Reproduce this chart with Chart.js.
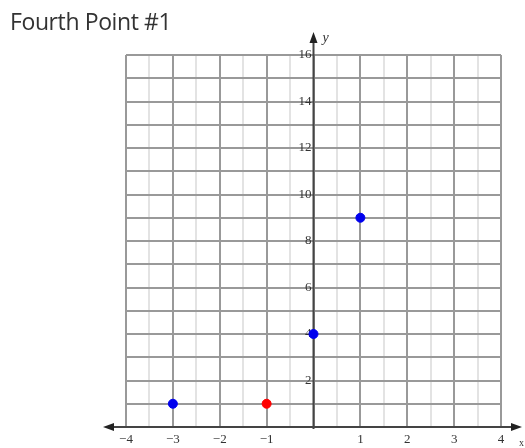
<!DOCTYPE html>
<html lang="en">
<head>
  <meta charset="UTF-8">
  <title>Fourth Point #1</title>
  <script src="https://cdn.jsdelivr.net/npm/chart.js"></script>
  <style>
    body {
      margin: 0;
      background: #fff;
    }
    #wrap {
      position: relative;
      width: 525px;
      height: 448px;
    }
    #titulo {
      position: absolute;
      left: 10px;
      top: 5px;
      font-family: "Open Sans", sans-serif;
      font-size: 23px;
      letter-spacing: -0.4px;
      color: #333;
    }
  </style>
</head>
<body>
<div id="wrap">
  <canvas id="grafico"></canvas>
  <div id="titulo">Fourth Point #1</div>
</div>

<script>
  // pontos dados (azuis) e o quarto ponto (vermelho)
  const blueX = [-3, 0, 1];
  const blueY = [1, 4, 9];
  const redX = [-1];
  const redY = [1];

  const xTickValues = [-4, -3, -2, -1, 1, 2, 3, 4];
  const xTickLabels = ['\u22124', '\u22123', '\u22122', '\u22121', '1', '2', '3', '4'];
  const yTickValues = [2, 4, 6, 8, 10, 12, 14, 16];
  const yTickLabels = ['2', '4', '6', '8', '10', '12', '14', '16'];

  const toPoints = (xs, ys) => xs.map((x, i) => ({ x: x, y: ys[i] }));

  // desenha os eixos com setas e os rótulos sobre a grade
  const eixos = {
    id: 'eixos',
    beforeDatasetsDraw(chart) {
      const c = chart.ctx;
      const sx = chart.scales.x, sy = chart.scales.y;
      const x0 = sx.getPixelForValue(0);
      const y0 = sy.getPixelForValue(0);
      const left = sx.left - 23, right = sx.right + 21, top = sy.top - 23;

      c.save();
      c.strokeStyle = '#444';
      c.fillStyle = '#222';
      c.lineWidth = 2;
      c.beginPath();
      c.moveTo(left + 6, y0);
      c.lineTo(right - 6, y0);
      c.moveTo(x0, y0 + 2);
      c.lineTo(x0, top + 6);
      c.stroke();

      // setas
      c.beginPath();
      c.moveTo(left, y0); c.lineTo(left + 11, y0 - 4); c.lineTo(left + 11, y0 + 4); c.closePath();
      c.moveTo(right, y0); c.lineTo(right - 11, y0 - 4); c.lineTo(right - 11, y0 + 4); c.closePath();
      c.moveTo(x0, top); c.lineTo(x0 - 4, top + 11); c.lineTo(x0 + 4, top + 11); c.closePath();
      c.fill();

      c.font = '13px "Liberation Serif", serif';
      c.fillStyle = '#333';
      c.textAlign = 'center';
      c.textBaseline = 'middle';
      xTickValues.forEach((v, i) => {
        c.fillText(xTickLabels[i], sx.getPixelForValue(v), y0 + 13);
      });
      c.textAlign = 'right';
      yTickValues.forEach((v, i) => {
        c.fillText(yTickLabels[i], x0 - 2, sy.getPixelForValue(v));
      });

      c.font = 'italic 14px "Liberation Serif", serif';
      c.textAlign = 'left';
      c.fillText('y', x0 + 9, top + 6);
      c.font = '10px "Liberation Serif", serif';
      c.fillText('x', right - 3, y0 + 16);
      c.restore();
    }
  };

  const ctx = document.getElementById('grafico').getContext('2d');

  new Chart(ctx, {
    type: 'scatter',
    data: {
      datasets: [{
        label: 'Given',
        data: toPoints(blueX, blueY),
        backgroundColor: '#0000ee',
        borderColor: '#0000ee',
        pointRadius: 4.5
      }, {
        label: 'Fourth',
        data: toPoints(redX, redY),
        backgroundColor: '#ff0000',
        borderColor: '#ff0000',
        pointRadius: 4.5
      }]
    },
    options: {
      responsive: true,
      maintainAspectRatio: false,
      animation: false,
      layout: { padding: { left: 126, right: 24, top: 55, bottom: 21 } },
      plugins: {
        legend: { display: false },
        tooltip: { enabled: false }
      },
      scales: {
        x: {
          type: 'linear',
          min: -4,
          max: 4,
          ticks: { display: false, stepSize: 0.5 },
          border: { display: false },
          grid: {
            drawTicks: false,
            lineWidth: 2,
            color: (c) => Number.isInteger(c.tick.value) ? '#999999' : '#e3e3e3'
          }
        },
        y: {
          type: 'linear',
          min: 0,
          max: 16,
          ticks: { display: false, stepSize: 1 },
          border: { display: false },
          grid: {
            drawTicks: false,
            lineWidth: 2,
            color: '#999999'
          }
        }
      }
    },
    plugins: [eixos]
  });
</script>

</body>
</html>
